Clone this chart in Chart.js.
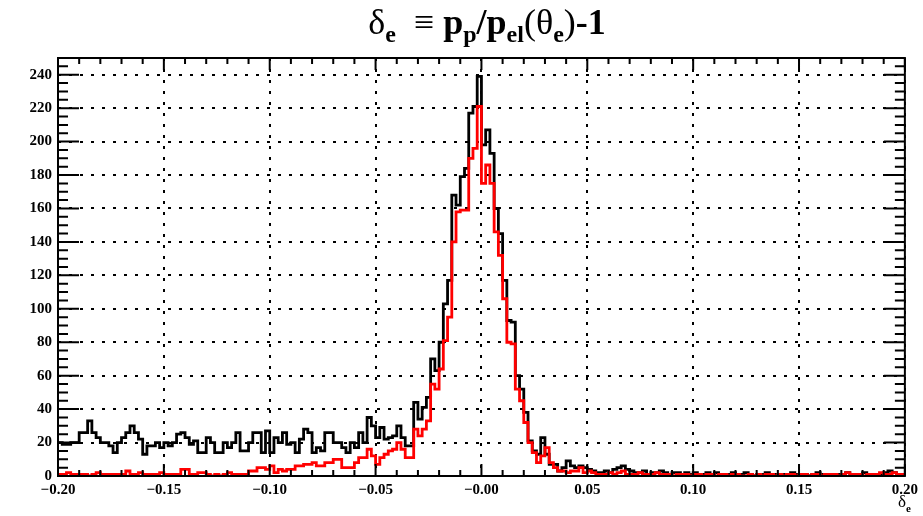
<!DOCTYPE html>
<html>
<head>
<meta charset="utf-8">
<script src="https://cdn.jsdelivr.net/npm/chart.js@4.4.1/dist/chart.umd.min.js"></script>
<style>
  body { margin: 0; background: #fff; }
  #wrap { position: relative; width: 923px; height: 516px; }
  #c { position: absolute; left: 0; top: 0; }
  .title { position: absolute; top: 4px; left: 58px; width: 858px; text-align: center; line-height: 36px;
    font-family: 'Liberation Serif', serif; font-size: 36px; font-weight: bold; white-space: nowrap; color: #000; }
  .title .n { font-weight: normal; }
  .title sub { font-size: 24px; vertical-align: -8px; line-height: 0; }
  .xtitle { position: absolute; right: 12px; top: 492px; font-family: 'Liberation Serif', serif;
    font-size: 17px; white-space: nowrap; }
  .xtitle sub { font-size: 11px; font-weight: bold; vertical-align: -5px; line-height: 0; }
</style>
</head>
<body>
<div id="wrap">
  <canvas id="c" width="923" height="516"></canvas>
  <div class="title"><span class="n">&delta;</span><sub>e</sub>&nbsp; <span class="n">&equiv;</span> p<sub>p</sub>/p<sub>el</sub><span class="n">(&theta;</span><sub>e</sub><span class="n">)</span>-1</div>
  <div class="xtitle">&delta;<sub>e</sub></div>
</div>
<script>
// histogram binning
const binLow = -0.2;
const binWidth = 0.002;

// black: all events, red: after cut
const blackCounts = [
  20,19,19,20,20,26,26,33,26,23,20,20,18,14,20,23,26,30,26,22,13,18,18,20,17,20,18,20,25,26,23,19,21,14,
  14,23,20,14,14,20,17,20,26,15,15,20,26,26,14,27,14,23,20,26,19,20,14,22,28,26,14,17,15,26,26,20,20,17,
  14,20,17,26,20,35,30,23,29,22,23,24,30,23,18,18,44,
  34,41,47,70,63,80,103,117,168,162,179,184,217,221,239,198,207,193,160,145,117,93,92,60,52,38,21,15,
  13,23,13,7,7,3,5,9,6,5,6,5,4,3,2,2,
  3,2,4,5,6,4,3,2,2,3, 1,2,2,3,2,1,2,2,1,2, 1,2,1,1,2,1,2,1,0,1, 2,1,1,2,1,0,1,1,2,1,
  1,0,1,1,2,1,1,1,0,1, 2,1,1,1,0,1,1,2,1,1, 1,2,1,1,0,1,2,3,2,1, 1
];
const redCounts = [
  1,1,2,1,1,1,1,0,1,2,1,1,1,1,1,1,3,1,1,2,1,1,1,1,2,1,1,1,1,4,4,1,1,2,
  2,1,0,1,0,1,2,1,1,1,1,3,3,5,5,4,6,2,4,3,4,4,6,6,7,7,8,6,6,8,8,10,10,5,
  5,5,8,11,11,16,12,7,11,13,15,16,20,16,11,11,
  28,24,28,33,55,52,64,81,95,140,158,159,159,190,196,221,175,186,175,146,132,106,80,79,52,45,32,20,14,
  8,12,17,8,5,3,3,2,3,3,5,2,3,2,1,1,
  1,2,1,2,3,1,1,1,2,1, 1,1,2,1,1,1,0,1,1,1, 0,1,1,0,1,1,0,1,1,0, 1,1,0,0,1,0,1,0,1,1,
  0,1,0,1,1,0,1,1,0,1, 1,0,1,1,1,0,1,2,1,1, 1,0,1,1,1,2,1,1,2,1, 1
];

const xTickValues = [-0.2, -0.15, -0.1, -0.05, 0, 0.05, 0.1, 0.15, 0.2];
const xTickLabels = ['\u22120.20', '\u22120.15', '\u22120.10', '\u22120.05', '\u22120.00', '0.05', '0.10', '0.15', '0.20'];
const yTickValues = [0, 20, 40, 60, 80, 100, 120, 140, 160, 180, 200, 220, 240];
const yTickLabels = ['0', '20', '40', '60', '80', '100', '120', '140', '160', '180', '200', '220', '240'];

function toSteps(counts) {
  const pts = [];
  for (let i = 0; i < counts.length; i++) {
    pts.push({ x: binLow + i * binWidth, y: counts[i] });
  }
  pts.push({ x: binLow + counts.length * binWidth, y: counts[counts.length - 1] });
  return pts;
}

// ROOT-like frame with inward ticks on all four sides
const frameTicks = {
  id: 'frameTicks',
  afterDatasetsDraw(chart) {
    const ctx = chart.ctx;
    const a = chart.chartArea;
    const x = chart.scales.x;
    const y = chart.scales.y;
    ctx.save();
    ctx.strokeStyle = '#000';
    ctx.lineWidth = 2;
    ctx.beginPath();
    for (let i = 0; i <= 40; i++) {
      const px = x.getPixelForValue(-0.2 + i * 0.01);
      const len = i % 5 === 0 ? 12 : 6;
      ctx.moveTo(px, a.bottom); ctx.lineTo(px, a.bottom - len);
      ctx.moveTo(px, a.top); ctx.lineTo(px, a.top + len);
    }
    for (let v = 0; v < 250; v += 5) {
      const py = y.getPixelForValue(v);
      const len = v % 20 === 0 ? 21 : 10;
      ctx.moveTo(a.left, py); ctx.lineTo(a.left + len, py);
      ctx.moveTo(a.right, py); ctx.lineTo(a.right - len, py);
    }
    ctx.stroke();
    ctx.strokeRect(a.left, a.top, a.right - a.left, a.bottom - a.top);
    ctx.restore();
  }
};

const tickFont = { family: 'Liberation Serif', size: 15, weight: 'bold' };

new Chart(document.getElementById('c'), {
  type: 'line',
  data: {
    datasets: [
      { label: 'cut', data: toSteps(redCounts), stepped: 'before', borderColor: '#ff0000',
        borderWidth: 2.8, pointRadius: 0, fill: false },
      { label: 'all', data: toSteps(blackCounts), stepped: 'before', borderColor: '#000000',
        borderWidth: 2.8, pointRadius: 0, fill: false }
    ]
  },
  options: {
    responsive: false,
    animation: false,
    devicePixelRatio: 1,
    layout: { padding: { top: 58, right: 11, left: 0, bottom: 0 } },
    plugins: { legend: { display: false }, tooltip: { enabled: false }, title: { display: false } },
    scales: {
      x: {
        type: 'linear', min: -0.2, max: 0.2,
        afterBuildTicks: s => { s.ticks = xTickValues.map(v => ({ value: v })); },
        afterFit: s => { s.height = 40; },
        ticks: { color: '#000', font: tickFont, padding: 5, autoSkip: false, maxRotation: 0,
          callback: (v, i) => xTickLabels[i] },
        grid: { color: '#000', lineWidth: 2, drawTicks: false },
        border: { display: false, dash: [3, 8] }
      },
      y: {
        type: 'linear', min: 0, max: 250,
        afterBuildTicks: s => { s.ticks = yTickValues.map(v => ({ value: v })); },
        afterFit: s => { s.width = 58; },
        ticks: { color: '#000', font: tickFont, padding: 6,
          callback: (v, i) => yTickLabels[i] },
        grid: { color: '#000', lineWidth: 2, drawTicks: false },
        border: { display: false, dash: [3, 8] }
      }
    }
  },
  plugins: [frameTicks]
});
</script>
</body>
</html>
